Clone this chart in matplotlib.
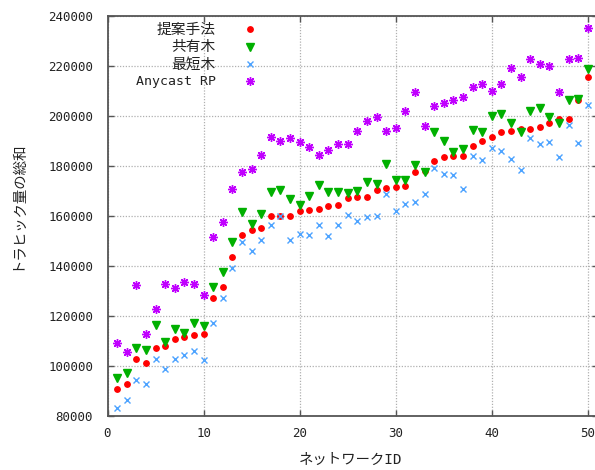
import matplotlib
matplotlib.use("Agg")
import matplotlib.pyplot as plt
from matplotlib.ticker import FixedLocator

# Network IDs and total traffic per method
network_id = list(range(1, 51))

proposed = [91000, 93000, 102700, 101100, 107300, 108100, 110900, 111700, 112500, 112900,
            127200, 131600, 143700, 152500, 154400, 155200, 160000, 160100, 160100, 161900,
            162400, 162800, 164000, 164500, 167200, 167600, 167700, 170500, 171100, 171500,
            172000, 177800, 178200, 182100, 183500, 183900, 184000, 188000, 190100, 191500,
            193600, 194100, 194900, 194900, 195700, 197200, 198700, 198900, 206500, 215500]

shared_tree = [95300, 97300, 107100, 106300, 116300, 109500, 114900, 113100, 117300, 115900,
               131700, 137600, 149500, 161500, 156900, 160900, 169600, 170600, 166900, 164400,
               168100, 172500, 169500, 169600, 169100, 170100, 173500, 172700, 180800, 174400,
               174400, 180300, 177700, 193700, 189900, 185700, 186700, 194400, 193700, 200100,
               200900, 197300, 193700, 202100, 203300, 199700, 197300, 206400, 206900, 218800]

shortest_tree = [83100, 86400, 94400, 92700, 102700, 98700, 102700, 104300, 105900, 102300,
                 117300, 127200, 139100, 149700, 145900, 150500, 156600, 160000, 150400, 152700,
                 152300, 156400, 152000, 156400, 160500, 157900, 159500, 160000, 168700, 161900,
                 164700, 165600, 168700, 179100, 176700, 176300, 170700, 183900, 182500, 187300,
                 186000, 182900, 178500, 191300, 188800, 189500, 183500, 196400, 189300, 204300]

anycast_rp = [109100, 105700, 132300, 112700, 122900, 132700, 131100, 133500, 132700, 128300,
              151700, 157700, 170700, 177500, 178700, 184300, 191500, 190100, 191100, 189600,
              187700, 184500, 186500, 188900, 188900, 194000, 198000, 199700, 194000, 195300,
              202000, 209500, 196000, 204000, 205100, 206400, 207600, 211700, 212700, 210100,
              212700, 219300, 215700, 222900, 220700, 220100, 209500, 222900, 223200, 235200]

series_labels = ["提案手法", "共有木", "最短木", "Anycast RP"]
x_ticks = [0, 10, 20, 30, 40, 50]
y_ticks = [80000, 100000, 120000, 140000, 160000, 180000, 200000, 220000, 240000]

W, H = 595, 470
fig = plt.figure(figsize=(W / 100, H / 100), dpi=100)
ax = fig.add_axes([107.5 / W, 54 / H, 490 / W, 400 / H])

mono = "DejaVu Sans Mono"
cjk = "Noto Sans CJK JP"

ax.plot(network_id, proposed, linestyle="none", marker="o", ms=3.9,
        color="#ff0000", mec="#ff0000", label=series_labels[0])
ax.plot(network_id, shared_tree, linestyle="none", marker="v", ms=5.8,
        color="#00b000", mec="#00b000", label=series_labels[1])
ax.plot(network_id, shortest_tree, linestyle="none", marker="x", ms=5, mew=1.0,
        color="#4da3ff", label=series_labels[2])
ax.plot(network_id, anycast_rp, linestyle="none", marker=(8, 2, 0), ms=6.3, mew=1.0,
        color="#c000ff", label=series_labels[3])

ax.set_xlim(0, 51)
ax.set_ylim(80000, 240000)
ax.xaxis.set_major_locator(FixedLocator(x_ticks))
ax.yaxis.set_major_locator(FixedLocator(y_ticks))
ax.set_xticklabels([str(t) for t in x_ticks], family=mono, fontsize=9, color="#222222")
ax.set_yticklabels([str(t) for t in y_ticks], family=mono, fontsize=9, color="#222222")
ax.tick_params(axis="both", direction="in", length=4.3, width=1, color="#555555",
               top=True, right=True)
ax.tick_params(axis="y", pad=10.4)
ax.tick_params(axis="x", pad=8.2)

ax.grid(True, linestyle=(0, (1, 1.3)), color="#b0b0b0", linewidth=0.9)
ax.set_axisbelow(True)
for sp in ax.spines.values():
    sp.set_color("#555555")
    sp.set_linewidth(1.3)

leg = ax.legend(loc="upper right", bbox_to_anchor=(274 / W, 1 - 23 / H),
                bbox_transform=fig.transFigure, frameon=False, markerfirst=False,
                handlelength=3.4, handletextpad=0.8, borderpad=0, labelspacing=0.25,
                borderaxespad=0, numpoints=1)
for t in leg.get_texts():
    if t.get_text().isascii():
        t.set_fontfamily(mono)
        t.set_fontsize(9.5)
    else:
        t.set_fontfamily(cjk)
        t.set_fontsize(10.6)
    t.set_color("#222222")

fig.text(17 / W, 1 - 205 / H, "トラヒック量の総和", rotation=90, ha="center", va="center",
         family=cjk, fontsize=10.4, color="#222222")
fig.text(351 / W, 1 - 460 / H, "ネットワークID", ha="center", va="center",
         family=[mono, cjk], fontsize=10.4, color="#222222")

fig.savefig("out.png", dpi=100)
